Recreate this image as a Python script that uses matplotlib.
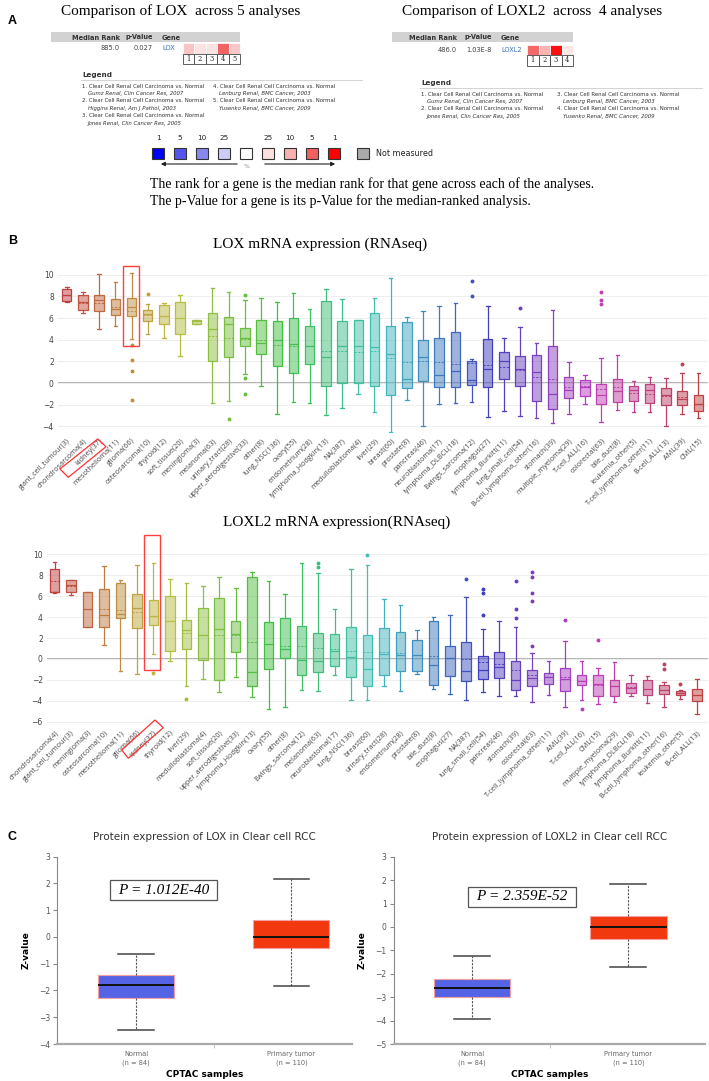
import colorsys
import numpy as np
import matplotlib
matplotlib.use('Agg')
import matplotlib.pyplot as plt
from matplotlib.patches import Rectangle, Polygon

W, H = 709, 1081

# ---------------- panel A (Oncomine summary) ----------------
lox_cells = ['#f9c4c4', '#fde2e2', '#fde2e2', '#f06464', '#fac8c8']
loxl2_cells = ['#f46868', '#f9b4b4', '#ff1010', '#fde6e6']
scale_cols = ['#0000ff', '#5555ee', '#8888ee', '#ccccf8', '#ffffff',
              '#fde0e0', '#f9b0b0', '#f06060', '#ff0000']
scale_labels = ['1', '5', '10', '25', '', '25', '10', '5', '1']
lox_studies = ['Gumz Renal, Clin Cancer Res, 2007', 'Higgins Renal, Am J Pathol, 2003',
               'Jones Renal, Clin Cancer Res, 2005', 'Lenburg Renal, BMC Cancer, 2003',
               'Yusenko Renal, BMC Cancer, 2009']
loxl2_studies = ['Gumz Renal, Clin Cancer Res, 2007', 'Jones Renal, Clin Cancer Res, 2005',
                 'Lenburg Renal, BMC Cancer, 2003', 'Yusenko Renal, BMC Cancer, 2009']

# ---------------- panel B (CCLE RNAseq) ----------------
lox_names = ['giant_cell_tumour(3)', 'chondrosarcoma(4)', 'kidney(37)', 'mesothelioma(11)',
             'glioma(66)', 'osteosarcoma(10)', 'thyroid(12)', 'soft_tissue(20)', 'meningioma(3)',
             'melanoma(63)', 'urinary_tract(28)', 'upper_aerodigestive(33)', 'other(8)',
             'lung_NSC(136)', 'ovary(55)', 'endometrium(28)', 'lymphoma_Hodgkin(13)', 'NA(387)',
             'medulloblastoma(4)', 'liver(29)', 'breast(60)', 'prostate(8)', 'pancreas(46)',
             'neuroblastoma(17)', 'lymphoma_DLBCL(18)', 'Ewings_sarcoma(12)', 'esophagus(27)',
             'lymphoma_Burkitt(11)', 'lung_small_cell(54)', 'B-cell_lymphoma_other(16)',
             'stomach(39)', 'multiple_myeloma(29)', 'T-cell_ALL(16)', 'colorectal(63)',
             'bile_duct(8)', 'leukemia_other(5)', 'T-cell_lymphoma_other(11)', 'B-cell_ALL(13)',
             'AML(39)', 'CML(15)']
lox_q1 = [7.6, 6.73, 6.67, 6.3, 6.17, 5.77, 5.47, 4.57, 5.47, 2.0, 2.43, 3.4, 2.72, 1.6, 0.89,
          1.79, -0.22, 0.03, 0.03, -0.22, -1.08, -0.46, 0.19, -0.34, -0.4, -0.19, -0.4, 0.34,
          -0.28, -1.67, -2.38, -1.36, -1.17, -1.88, -1.73, -1.64, -1.82, -2.04, -2.04, -2.53]
lox_med = [8.1, 7.5, 7.63, 6.88, 7.0, 6.42, 6.2, 5.99, 5.7, 4.97, 5.47, 4.13, 3.68, 3.99, 3.61,
           3.46, 2.4, 3.4, 3.4, 3.37, 2.68, 0.37, 2.37, 0.71, 1.11, 0.28, 1.3, 2.03, 1.3, 0.99,
           -0.99, -0.65, -0.34, -1.14, -0.71, -0.59, -0.59, -1.11, -1.42, -1.88]
lox_q3 = [8.67, 8.15, 8.09, 7.78, 7.84, 6.76, 7.2, 7.47, 5.87, 6.51, 6.1, 5.12, 5.83, 5.71, 6.05,
          5.28, 7.56, 5.71, 5.8, 6.45, 5.31, 5.68, 3.98, 4.13, 4.69, 2.07, 4.04, 2.9, 2.53, 2.62,
          3.4, 0.55, 0.25, -0.06, 0.34, -0.25, -0.09, -0.49, -0.71, -1.05]
lox_mean = [8.15, 7.4, 7.4, 7.0, 6.67, 6.3, 6.2, 6.0, 5.7, 4.35, 4.13, 4.1, 3.99, 3.52, 3.43,
            3.46, 2.93, 2.93, 2.87, 2.96, 2.28, 1.97, 2.0, 1.94, 1.79, 1.82, 1.7, 1.48, 1.2, 0.53,
            0.37, -0.34, -0.22, -0.53, -0.4, -0.9, -0.96, -1.2, -1.27, -1.9]
lox_lo = [7.5, 6.48, 5.0, 5.3, 4.07, 4.57, 4.2, 2.5, 5.47, -1.82, -1.64, 0.8, -0.28, -2.87, -1.73,
          -1.79, -2.9, -2.25, -1.02, -2.68, -4.5, -1.54, -4.0, -1.94, -1.79, -1.73, -3.1, -2.56,
          -3.06, -3.17, -3.7, -2.87, -1.91, -3.58, -2.5, -2.68, -2.68, -3.95, -2.87, -3.17]
lox_hi = [8.9, 8.4, 10.09, 9.32, 10.2, 7.31, 7.44, 8.09, 5.87, 8.77, 8.38, 7.63, 7.9, 7.5, 8.3,
          6.85, 8.64, 7.74, 5.8, 7.9, 9.69, 6.14, 6.69, 7.16, 7.4, 2.19, 7.13, 4.2, 5.22, 3.68,
          6.76, 1.94, 0.74, 2.35, 2.56, 0.19, 0.53, 0.43, 0.89, 0.89]
lox_out = {4: [3.52, 2.13, 1.11, -1.6], 5: [8.2], 10: [-3.33], 11: [8.1, 0.5, -0.96],
           25: [9.38, 8.0], 28: [6.89], 33: [8.38, 7.7, 7.26], 38: [1.72]}

loxl2_names = ['chondrosarcoma(4)', 'giant_cell_tumour(3)', 'meningioma(3)', 'osteosarcoma(10)',
               'mesothelioma(11)', 'glioma(66)', 'kidney(37)', 'thyroid(12)', 'liver(29)',
               'medulloblastoma(4)', 'soft_tissue(20)', 'upper_aerodigestive(33)',
               'lymphoma_Hodgkin(13)', 'ovary(55)', 'other(8)', 'Ewings_sarcoma(12)',
               'melanoma(63)', 'neuroblastoma(17)', 'lung_NSC(136)', 'breast(60)',
               'urinary_tract(28)', 'endometrium(28)', 'prostate(8)', 'bile_duct(8)',
               'esophagus(27)', 'NA(387)', 'lung_small_cell(54)', 'pancreas(46)', 'stomach(39)',
               'colorectal(63)', 'T-cell_lymphoma_other(11)', 'AML(39)', 'T-cell_ALL(16)',
               'CML(15)', 'multiple_myeloma(29)', 'lymphoma_DLBCL(18)', 'lymphoma_Burkitt(11)',
               'B-cell_lymphoma_other(16)', 'leukemia_other(5)', 'B-cell_ALL(13)']
loxl2_q1 = [6.35, 6.44, 3.03, 3.1, 3.87, 2.95, 3.23, 0.73, 0.95, -0.13, -2.04, 0.7, -2.55, -0.95,
            0.06, -1.53, -1.24, -0.7, -1.68, -2.55, -1.56, -1.14, -1.11, -2.45, -1.65, -2.13,
            -1.91, -1.81, -2.93, -2.55, -2.38, -3.02, -2.51, -3.56, -3.5, -3.24, -3.4, -3.33,
            -3.4, -4.04]
loxl2_med = [6.44, 7.08, 4.76, 4.22, 4.28, 4.85, 4.06, 3.58, 2.79, 2.31, 2.85, 2.38, -1.24, 1.46,
             0.95, -0.07, -0.23, 0.79, 0.19, -0.96, 0.48, 0.41, 0.41, -0.57, 0.13, -1.11, -1.05,
             -0.79, -2.0, -1.78, -1.72, -1.91, -2.07, -2.35, -2.6, -2.76, -2.83, -2.92, -3.24,
             -3.4]
loxl2_q3 = [8.57, 7.56, 6.41, 6.66, 7.3, 6.19, 5.62, 6.0, 3.75, 4.85, 5.87, 3.62, 7.81, 3.52,
            3.87, 3.17, 2.44, 2.41, 3.01, 2.31, 2.98, 2.54, 1.78, 3.65, 1.2, 1.62, 0.32, 0.63,
            -0.23, -1.05, -1.3, -0.89, -1.49, -1.56, -1.97, -2.29, -1.97, -2.51, -3.02, -2.89]
loxl2_mean = [7.4, 6.99, 4.76, 4.76, 4.7, 4.47, 4.06, 3.58, 2.47, 2.25, 2.31, 2.25, 1.65, 1.46,
              1.27, 1.24, 1.03, 0.95, 0.73, 0.63, 0.63, 0.55, 0.41, 0.29, 0.13, 0.0, -0.29,
              -0.48, -1.08, -1.5, -1.75, -1.75, -2.07, -2.5, -2.55, -2.7, -2.83, -2.92, -3.2,
              -3.4]
loxl2_lo = [6.3, 6.1, 3.03, 1.33, -1.14, -1.46, 0.51, -0.2, -2.6, -1.91, -3.17, -1.72, -3.6,
            -4.76, -4.57, -2.95, -3.02, -1.56, -3.94, -3.9, -2.55, -3.08, -1.46, -2.86, -3.3,
            -3.87, -3.17, -3.5, -3.5, -4.13, -3.4, -4.57, -3.94, -4.26, -4.13, -3.5, -4.2,
            -4.57, -3.78, -5.24]
loxl2_hi = [9.24, 7.56, 6.41, 8.88, 7.53, 9.0, 9.14, 7.65, 7.3, 6.98, 7.81, 6.73, 8.35, 7.43,
            6.16, 9.14, 8.19, 4.73, 8.63, 8.98, 5.74, 5.14, 2.76, 3.97, 4.22, 5.96, 2.89, 3.62,
            3.1, 0.57, -0.16, 1.68, -0.19, -0.89, -0.29, -1.53, -1.62, -2.19, -2.99, -1.88]
loxl2_out = {6: [-1.37], 8: [-3.78], 16: [9.2, 8.76], 19: [9.93], 25: [7.65],
             26: [6.67, 6.29, 4.16], 28: [7.4, 4.8, 3.87], 29: [8.28, 7.87, 6.29, 5.52, 1.27],
             31: [3.75], 32: [-4.76], 33: [1.84], 37: [-0.51, -0.92], 38: [-2.35]}

# ---------------- panel C (CPTAC protein) ----------------
c_groups = ['Normal\n(n = 84)', 'Primary tumor\n(n = 110)']
c_colors = ['#5464e4', '#f2380f']
prot_lox = dict(q1=[-2.28, -0.41], med=[-1.81, -0.01], q3=[-1.41, 0.62],
                lo=[-3.47, -1.83], hi=[-0.64, 2.17])
prot_loxl2 = dict(q1=[-3.01, -0.50], med=[-2.62, 0.01], q3=[-2.24, 0.46],
                  lo=[-3.92, -1.73], hi=[-1.23, 1.83])

fig = plt.figure(figsize=(W / 100, H / 100), dpi=100)


def add_ax(l, t, r, b):
    return fig.add_axes([l / W, 1 - b / H, (r - l) / W, (b - t) / H])


ov = fig.add_axes([0, 0, 1, 1])
ov.set_xlim(0, W)
ov.set_ylim(H, 0)
ov.axis('off')
ov.set_zorder(10)

serif = 'Liberation Serif'
sans = 'DejaVu Sans'

# ---- A ----
ov.text(8, 21, 'A', fontsize=9, fontweight='bold', family='Liberation Sans', va='center')
ov.text(181, 11, 'Comparison of LOX  across 5 analyses', fontsize=11, family=serif,
        ha='center', va='center')
ov.text(532, 11, 'Comparison of LOXL2  across  4 analyses', fontsize=11, family=serif,
        ha='center', va='center')


def onco_table(x0, x1, cols_x, header, row, cells, cx0, cw, cy0, gene_col='#3a70c0'):
    ov.add_patch(Rectangle((x0, 32), x1 - x0, 10, fc='#d2d2d2', ec='none'))
    for (x, ha), h in zip(cols_x, header):
        ov.text(x, 37.5, h, fontsize=4.8, fontweight='bold', family=sans, ha=ha, va='center',
                color='#333')
    for i, ((x, ha), v) in enumerate(zip(cols_x, row)):
        ov.text(x, cy0 + 5, v, fontsize=4.8, family=sans, ha=ha, va='center',
                color=gene_col if i == 2 else '#444')
    for i, c in enumerate(cells):
        ov.add_patch(Rectangle((cx0 + i * cw, cy0), cw, 10.5, fc=c, ec='white', lw=0.5))
        ov.add_patch(Rectangle((cx0 + i * cw, cy0 + 10.5), cw, 10.5, fc='white', ec='#444', lw=0.6))
        ov.text(cx0 + (i + 0.5) * cw, cy0 + 15.9, str(i + 1), fontsize=4.8, family='DejaVu Serif',
                ha='center', va='center', color='#222')


onco_table(51, 240, [(120, 'right'), (153, 'right'), (162, 'left')],
           ['Median Rank', 'p-Value', 'Gene'], ['885.0', '0.027', 'LOX'],
           lox_cells, 183, 11.4, 43)
onco_table(392, 573, [(457, 'right'), (492, 'right'), (501, 'left')],
           ['Median Rank', 'p-Value', 'Gene'], ['486.0', '1.03E-8', 'LOXL2'],
           loxl2_cells, 527, 11.5, 44.5)


def onco_legend(x0, y0, x1, col2, studies, per_col):
    ov.text(x0, y0, 'Legend', fontsize=5.2, fontweight='bold', family=sans, va='center', color='#333')
    ov.plot([x0 - 1, x1], [y0 + 5, y0 + 5], color='#cccccc', lw=0.6)
    for i, s in enumerate(studies):
        cx = x0 if i < per_col else col2
        cy = y0 + 11.5 + (i % per_col) * 14.5
        ov.text(cx, cy, '%d. Clear Cell Renal Cell Carcinoma vs. Normal' % (i + 1), fontsize=3.9,
                family=sans, va='center', color='#333')
        ov.text(cx + 6, cy + 7.5, s, fontsize=3.9, family=sans, style='italic', va='center',
                color='#333')


onco_legend(82, 75, 362, 213, lox_studies, 3)
onco_legend(421, 83, 702, 557, loxl2_studies, 2)

# colour scale
for i, (c, lab) in enumerate(zip(scale_cols, scale_labels)):
    xc = 158 + 22 * i
    ov.add_patch(Rectangle((xc - 6, 148), 12, 11, fc=c, ec='#333', lw=0.8))
    ov.text(xc, 138.5, lab, fontsize=5.2, family=sans, ha='center', va='center', color='#222')
ov.add_patch(Rectangle((357, 148), 12, 11, fc='#aaaaaa', ec='#333', lw=0.8))
ov.text(376, 153.5, 'Not measured', fontsize=5.8, family=sans, va='center', color='#222')
ov.annotate('', xy=(158, 164), xytext=(240, 164),
            arrowprops=dict(arrowstyle='-|>', color='#222', lw=0.8, mutation_scale=6))
ov.annotate('', xy=(338, 164), xytext=(262, 164),
            arrowprops=dict(arrowstyle='-|>', color='#222', lw=0.8, mutation_scale=6))
ov.text(247, 167, '%', fontsize=4.5, family=sans, ha='center', va='center', color='#888')
ov.text(150, 184, 'The rank for a gene is the median rank for that gene across each of the analyses.',
        fontsize=9.9, family=serif, va='center')
ov.text(150, 201, 'The p-Value for a gene is its p-Value for the median-ranked analysis.',
        fontsize=9.9, family=serif, va='center')

# ---- B ----
ov.text(8, 241, 'B', fontsize=9, fontweight='bold', family='Liberation Sans', va='center')
ov.text(320, 244, 'LOX mRNA expression (RNAseq)', fontsize=11, family=serif, ha='center',
        va='center')
ov.text(337, 522, 'LOXL2 mRNA expression(RNAseq)', fontsize=11, family=serif, ha='center',
        va='center')


def rnaseq(ax, names, q1, med, q3, mean, lo, hi, out, ylim, yticks, xlim):
    n = len(names)
    stats = [dict(label=names[i], q1=q1[i], med=med[i], q3=q3[i], mean=mean[i],
                  whislo=lo[i], whishi=hi[i], fliers=out.get(i, [])) for i in range(n)]
    art = ax.bxp(stats, positions=np.arange(n), widths=0.58, capwidths=0.22, showmeans=True,
                 meanline=True, patch_artist=True, manage_ticks=False)
    cols = [colorsys.hls_to_rgb(h / 360.0, 0.5, 0.5) for h in np.linspace(0, 360, n)]
    for i, c in enumerate(cols):
        art['boxes'][i].set(facecolor=(*c, 0.5), edgecolor=c, linewidth=0.9)
        for a in art['whiskers'][2 * i:2 * i + 2] + art['caps'][2 * i:2 * i + 2]:
            a.set(color=c, linewidth=0.9)
        art['medians'][i].set(color=c, linewidth=0.9)
        art['means'][i].set(color=c, linewidth=0.7, linestyle=(0, (2.2, 1.6)))
        art['fliers'][i].set(marker='o', markersize=1.8, markerfacecolor=c, markeredgecolor=c)
    ax.set_xlim(*xlim)
    ax.set_ylim(*ylim)
    ax.set_yticks(yticks)
    ax.grid(axis='y', color='#eeeeee', lw=0.7)
    ax.axhline(0, color='#b4b4b4', lw=1.4, zorder=0.5)
    ax.set_axisbelow(True)
    for s in ax.spines.values():
        s.set_visible(False)
    ax.set_xticks(np.arange(n))
    ax.set_xticklabels(names, rotation=45, ha='right', rotation_mode='anchor',
                       fontsize=5.2, family='Open Sans', color='#444')
    ax.tick_params(axis='both', length=0, pad=3)
    ax.tick_params(axis='y', labelsize=5.5, labelcolor='#444')


ax1 = add_ax(58, 265, 708, 433)
rnaseq(ax1, lox_names, lox_q1, lox_med, lox_q3, lox_mean, lox_lo, lox_hi, lox_out,
       (-4.6, 10.9), range(-4, 11, 2), (-0.54, 39.6))
ax1.add_patch(Rectangle((3.48, 3.43), 0.98, 7.4, fill=False, ec='#ff4040', lw=1.0,
                        clip_on=False, zorder=5))

ax2 = add_ax(47, 549, 708, 725)
rnaseq(ax2, loxl2_names, loxl2_q1, loxl2_med, loxl2_q3, loxl2_mean, loxl2_lo, loxl2_hi,
       loxl2_out, (-6.3, 10.5), range(-6, 11, 2), (-0.46, 39.68))
ax2.add_patch(Rectangle((5.44, -1.02), 0.98, 12.86, fill=False, ec='#ff4040', lw=1.0,
                        clip_on=False, zorder=5))

# boxes drawn around the kidney tick labels
ov.add_patch(Polygon([(60, 469), (97.7, 439), (106, 446.7), (68.3, 477.3)], closed=True,
                     fill=False, ec='#ff3030', lw=0.9))
ov.add_patch(Polygon([(121.7, 750), (155, 720), (163.3, 727.7), (128.3, 758.3)], closed=True,
                     fill=False, ec='#ff3030', lw=0.9))

# ---- C ----
ov.text(8, 837, 'C', fontsize=9, fontweight='bold', family='Liberation Sans', va='center')
narrow = ['Liberation Sans Narrow', 'DejaVu Sans']


def cptac(ax, st, title, ylim, pval, pbox):
    stats = [dict(label=c_groups[i], q1=st['q1'][i], med=st['med'][i], q3=st['q3'][i],
                  whislo=st['lo'][i], whishi=st['hi'][i], fliers=[]) for i in range(2)]
    art = ax.bxp(stats, positions=[1, 2], widths=0.49, capwidths=0.23, patch_artist=True,
                 manage_ticks=False)
    for i, c in enumerate(c_colors):
        art['boxes'][i].set(facecolor=c, edgecolor='#f4a0a0', linewidth=0.8)
        art['medians'][i].set(color='#111', linewidth=1.4)
        for a in art['whiskers'][2 * i:2 * i + 2]:
            a.set(color='#555', linewidth=0.8, linestyle=(0, (2, 1.2)))
        for a in art['caps'][2 * i:2 * i + 2]:
            a.set(color='#444', linewidth=1.1)
    ax.set_ylim(*ylim)
    ax.set_yticks(range(ylim[0], ylim[1] + 1))
    ax.set_xticks([1, 2])
    ax.set_xticklabels(c_groups, fontsize=4.8, family=narrow, color='#666', linespacing=1.5)
    ax.set_xticks([1.5], minor=True)
    ax.tick_params(axis='x', which='major', length=0, pad=5)
    ax.tick_params(axis='x', which='minor', length=3, color='#bbb')
    ax.tick_params(axis='y', length=3, color='#888', labelsize=5.5, labelcolor='#555', pad=2)
    for s in ['top', 'right']:
        ax.spines[s].set_visible(False)
    ax.spines['left'].set(color='#888', lw=0.8)
    ax.spines['bottom'].set(color='#aaa', lw=1.6)
    ax.set_title(title, fontsize=7.5, family=narrow, color='#333', pad=12)
    ax.set_xlabel('CPTAC samples', fontsize=6.5, fontweight='bold', family=narrow, labelpad=3)
    ax.set_ylabel('Z-value', fontsize=6.5, fontweight='bold', family=narrow, labelpad=6)
    x0, y0, x1, y1 = pbox
    ov.add_patch(Rectangle((x0, y0), x1 - x0, y1 - y0, fill=False, ec='#555', lw=0.9))
    ov.text((x0 + x1) / 2, (y0 + y1) / 2, pval, fontsize=11, family=serif, style='italic',
            ha='center', va='center')


ax3 = add_ax(57, 856.7, 352, 1044)
ax3.set_xlim(0.49, 2.39)
cptac(ax3, prot_lox, 'Protein expression of LOX in Clear cell RCC', (-4, 3), 'P = 1.012E-40',
      (110, 880, 217, 900))
ax4 = add_ax(393.6, 856.7, 705, 1044)
ax4.set_xlim(0.497, 2.49)
cptac(ax4, prot_loxl2, 'Protein expression of LOXL2 in Clear cell RCC', (-5, 3), 'P = 2.359E-52',
      (468, 887, 576, 907))

fig.savefig('out.png', dpi=100)
